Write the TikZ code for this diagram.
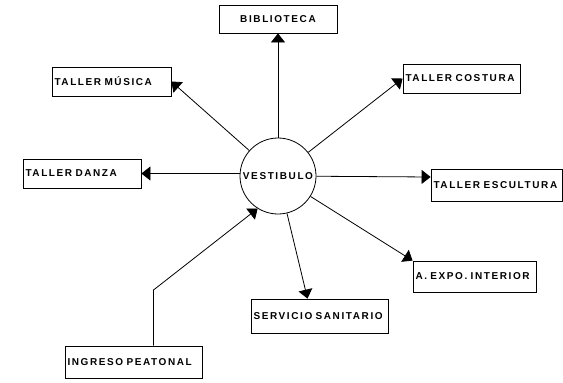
\documentclass[tikz,border=0pt]{standalone}
\usepackage{fontspec}
\newfontfamily\lbl{Liberation Sans Bold}[LetterSpace=16]
\usetikzlibrary{arrows.meta}
\begin{document}
\begin{tikzpicture}[x=1pt,y=-1pt,
  box/.style={draw, line width=0.8pt, inner xsep=2.5pt, inner ysep=0pt, align=left,
    font=\lbl\fontsize{10}{12}\selectfont},
  arr/.style={line width=0.8pt, -{Triangle[length=9pt,width=14pt]}},
  ln/.style={line width=0.8pt}]
\useasboundingbox (0,0) rectangle (563,383);
\node[circle, draw, line width=0.8pt, minimum size=76pt, inner sep=0pt,
  font=\lbl\fontsize{10}{12}\selectfont] (vest) at (278,176) {VESTIBULO};
\node[box, align=center, text width=113pt, minimum height=28pt] (bib) at (278,19) {BIBLIOTECA};
\node[box, text width=114pt, minimum height=29pt] (mus) at (111.5,81.5) {TALLER MÚSICA};
\node[box, text width=112pt, minimum height=29pt] (cost) at (461.5,78.5) {TALLER COSTURA};
\node[box, text width=113pt, minimum height=29pt] (danza) at (82,173.5) {TALLER DANZA};
\node[box, text width=126pt, minimum height=32pt] (esc) at (496.5,185) {TALLER ESCULTURA};
\node[box, text width=118pt, minimum height=31pt] (expo) at (474.5,276.5) {A. EXPO. INTERIOR};
\node[box, text width=132pt, minimum height=34pt] (san) at (319.5,316) {SERVICIO SANITARIO};
\node[box, text width=132pt, minimum height=32pt] (ing) at (133.5,362) {INGRESO PEATONAL};
\coordinate (bend) at (153.5,290);
\draw[arr] (vest) -- (bib.south);
\draw[arr] (vest) -- (mus.east);
\draw[arr] (vest) -- (cost.west);
\draw[arr] (vest.west |- danza.east) -- (danza.east);
\draw[arr] (vest) -- ([yshift=8pt]esc.west);
\draw[arr] (vest) -- (expo.north west);
\draw[arr] (vest) -- ([xshift=-12pt]san.north);
\draw[arr] ([xshift=20pt]ing.north) -- (bend) -- (vest.238);
\end{tikzpicture}
\end{document}
